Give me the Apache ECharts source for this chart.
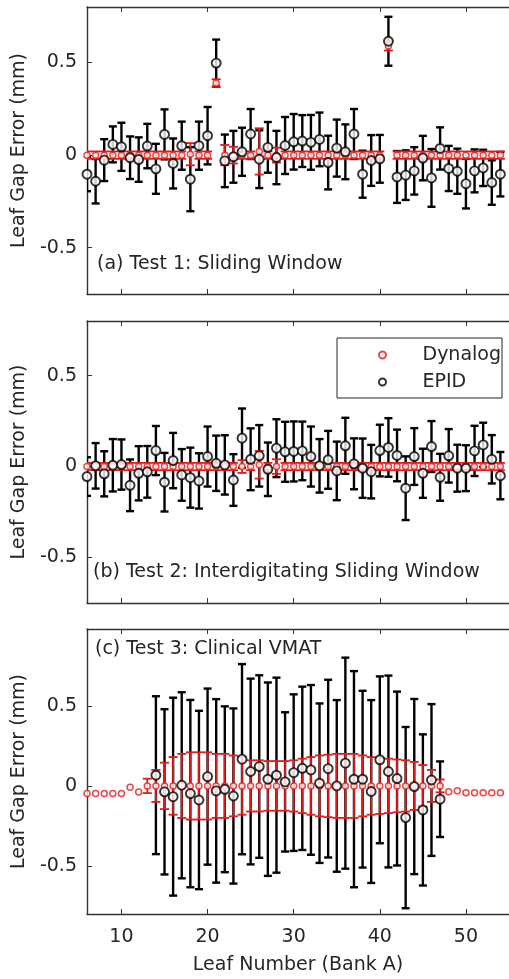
<!DOCTYPE html>
<html>
<head>
<meta charset="utf-8">
<script src="https://cdn.jsdelivr.net/npm/echarts@6/dist/echarts.min.js"></script>
<style>
  html, body { margin: 0; padding: 0; background: #fff; }
  #main { width: 509px; height: 979px; }
</style>
</head>
<body>
<div id="main"></div>
<script>
// leaf numbers (Bank A)
var leaves = [6, 7, 8, 9, 10, 11, 12, 13, 14, 15, 16, 17, 18, 19, 20, 21, 22, 23, 24, 25,
  26, 27, 28, 29, 30, 31, 32, 33, 34, 35, 36, 37, 38, 39, 40, 41, 42, 43, 44, 45,
  46, 47, 48, 49, 50, 51, 52, 53, 54];
var leavesEpidC = [14, 15, 16, 17, 18, 19, 20, 21, 22, 23, 24, 25, 26, 27, 28, 29, 30,
  31, 32, 33, 34, 35, 36, 37, 38, 39, 40, 41, 42, 43, 44, 45, 46, 47];

// (a) Test 1: Sliding Window
var dynA = [0, 0, 0, 0, 0, 0, 0, 0, 0, 0, 0, 0, 0.005, 0, 0, 0.39, 0, 0, 0, 0,
  0.02, 0, 0, 0, 0, 0, 0, 0, 0, 0, 0, 0, 0, 0, 0, 0.59, 0, 0, 0, 0,
  0, 0, 0, 0, 0, 0, 0, 0, 0];
var dynAErr = [0.02, 0.02, 0.02, 0.02, 0.02, 0.02, 0.02, 0.02, 0.02, 0.02, 0.02, 0.02, 0.06, 0.02, 0.02, 0.02, 0.055, 0.045, 0.02, 0.02,
  0.125, 0.02, 0.04, 0.02, 0.02, 0.02, 0.02, 0.02, 0.02, 0.02, 0.02, 0.02, 0.02, 0.02, 0.02, 0.025, 0.02, 0.02, 0.02, 0.02,
  0.02, 0.02, 0.02, 0.02, 0.02, 0.02, 0.02, 0.02, 0.02];
var epidA = [-0.103, -0.141, -0.027, 0.058, 0.045, -0.014, -0.024, 0.049, -0.074, 0.112,
  -0.045, 0.051, -0.13, 0.051, 0.105, 0.497, -0.031, -0.009, 0.018, 0.114,
  -0.022, 0.042, -0.013, 0.052, 0.072, 0.076, 0.069, 0.085, -0.04, 0.038,
  0.018, 0.114, -0.103, -0.029, -0.02, 0.615, -0.118, -0.108, -0.085, -0.016,
  -0.123, 0.036, -0.072, -0.087, -0.154, -0.085, -0.069, -0.148, -0.103];
var epidAErr = [0.092, 0.12, 0.113, 0.097, 0.13, 0.115, 0.12, 0.12, 0.135, 0.135,
  0.135, 0.13, 0.173, 0.13, 0.155, 0.127, 0.142, 0.14, 0.13, 0.135,
  0.156, 0.137, 0.144, 0.154, 0.15, 0.14, 0.148, 0.145, 0.145, 0.154,
  0.148, 0.135, 0.127, 0.137, 0.129, 0.132, 0.14, 0.134, 0.128, 0.12,
  0.156, 0.114, 0.122, 0.122, 0.134, 0.116, 0.098, 0.12, 0.12];

// (b) Test 2: Interdigitating Sliding Window
var dynB = [0, 0, 0, 0, 0, 0, 0, 0, 0, 0, 0, 0, 0, 0, 0, 0, 0, 0, 0, 0,
  0.01, 0, 0, 0, 0, 0, 0, 0, 0, 0, 0, 0, 0, 0, 0, 0, 0, 0, 0, 0,
  0, 0, 0, 0, 0, 0, 0, 0, 0];
var dynBErr = [0.02, 0.02, 0.02, 0.02, 0.02, 0.02, 0.02, 0.02, 0.02, 0.02, 0.02, 0.02, 0.02, 0.02, 0.02, 0.02, 0.02, 0.02, 0.035, 0.02,
  0.076, 0.02, 0.04, 0.02, 0.02, 0.02, 0.02, 0.02, 0.02, 0.02, 0.02, 0.02, 0.02, 0.02, 0.02, 0.02, 0.02, 0.02, 0.02, 0.02,
  0.02, 0.02, 0.02, 0.02, 0.02, 0.02, 0.02, 0.02, 0.02];
var epidB = [-0.055, 0.004, -0.04, 0.007, 0.011, -0.103, -0.037, -0.029, 0.088, -0.086,
  0.033, -0.046, -0.061, -0.079, 0.055, 0.018, 0.009, -0.074, 0.156, 0.04,
  0.059, -0.015, 0.101, 0.081, 0.083, 0.086, 0.055, 0.004, 0.037, -0.024,
  0.114, 0.015, -0.009, -0.028, 0.088, 0.105, 0.061, -0.119, 0.055, -0.037,
  0.11, -0.059, 0.059, -0.009, -0.009, 0.086, 0.119, 0.04, -0.05];
var epidBErr = [0.106, 0.125, 0.124, 0.144, 0.138, 0.142, 0.149, 0.142, 0.135, 0.161,
  0.152, 0.142, 0.165, 0.152, 0.165, 0.152, 0.163, 0.142, 0.163, 0.17,
  0.169, 0.147, 0.159, 0.165, 0.165, 0.161, 0.165, 0.147, 0.159, 0.161,
  0.154, 0.14, 0.163, 0.147, 0.142, 0.161, 0.142, 0.175, 0.156, 0.135,
  0.14, 0.129, 0.147, 0.129, 0.126, 0.138, 0.122, 0.133, 0.13];

// (c) Test 3: Clinical VMAT
var dynC = [-0.047, -0.047, -0.047, -0.047, -0.047, -0.008, -0.038, 0, 0, 0,
  0, 0, 0, 0, 0, 0, 0, 0, 0, 0, 0, 0, 0, 0, 0, 0, 0, 0, 0, 0,
  0, 0, 0, 0, 0, 0, 0, 0, 0, 0, 0, 0, -0.037, -0.03, -0.042,
  -0.042, -0.042, -0.042, -0.042];
var dynCErr = [0, 0, 0, 0, 0, 0, 0, 0.045, 0.1, 0.145,
  0.18, 0.2, 0.21, 0.21, 0.21, 0.2, 0.2, 0.19, 0.18, 0.16,
  0.16, 0.155, 0.155, 0.155, 0.16, 0.17, 0.18, 0.19, 0.195, 0.2,
  0.2, 0.2, 0.19, 0.18, 0.175, 0.17, 0.165, 0.16, 0.15, 0.13,
  0.1, 0.04, 0, 0, 0, 0, 0, 0, 0];
var epidC = [0.067, -0.037, -0.067, 0.004, -0.048, -0.088, 0.058, -0.031, -0.021, -0.063,
  0.167, 0.09, 0.121, 0.042, 0.067, 0.025, 0.083, 0.11, 0.1, 0.017,
  0.108, 0, 0.142, 0.042, 0.042, -0.035, 0.163, 0.09, 0.046, -0.198,
  -0.004, -0.15, 0.037, -0.083];
var epidCErr = [0.493, 0.516, 0.618, 0.581, 0.585, 0.557, 0.55, 0.573, 0.518, 0.547,
  0.594, 0.58, 0.57, 0.604, 0.609, 0.435, 0.489, 0.51, 0.53, 0.498,
  0.555, 0.536, 0.659, 0.675, 0.552, 0.571, 0.521, 0.599, 0.543, 0.566,
  0.547, 0.472, 0.474, 0.236];

var xTicks = [10, 20, 30, 40, 50];
var yTicks = [-0.5, 0, 0.5];

var font = 'DejaVu Sans';
var textColor = '#262626';
var axisColor = '#333';
var red = '#e31a1a';

var panels = [
  { title: '(a) Test 1: Sliding Window', titleLeft: 97, titleTop: 255, top: 7, height: 287, ymin: -0.75, ymax: 0.8,
    dyn: [leaves, dynA, dynAErr], epid: [leaves, epidA, epidAErr] },
  { title: '(b) Test 2: Interdigitating Sliding Window', titleLeft: 93, titleTop: 563, top: 321, height: 282, ymin: -0.75, ymax: 0.8,
    dyn: [leaves, dynB, dynBErr], epid: [leaves, epidB, epidBErr] },
  { title: '(c) Test 3: Clinical VMAT', titleLeft: 95, titleTop: 640, top: 629, height: 285, ymin: -0.8, ymax: 0.98,
    dyn: [leaves, dynC, dynCErr], epid: [leavesEpidC, epidC, epidCErr] }
];

function errorBars(color, lineWidth, cap) {
  return function (params, api) {
    var x = api.value(0), y = api.value(1), e = api.value(2);
    if (!e) return null;
    var hi = api.coord([x, y + e]);
    var lo = api.coord([x, y - e]);
    var style = { stroke: color, lineWidth: lineWidth, fill: null };
    return {
      type: 'group',
      children: [
        { type: 'line', shape: { x1: hi[0], y1: hi[1], x2: lo[0], y2: lo[1] }, style: style },
        { type: 'line', shape: { x1: hi[0] - cap, y1: hi[1], x2: hi[0] + cap, y2: hi[1] }, style: style },
        { type: 'line', shape: { x1: lo[0] - cap, y1: lo[1], x2: lo[0] + cap, y2: lo[1] }, style: style }
      ]
    };
  };
}

function rows(set) {
  return set[0].map(function (x, i) { return [x, set[1][i], set[2][i]]; });
}

var grids = [], xAxes = [], yAxes = [], titles = [], series = [];
panels.forEach(function (p, g) {
  var last = g === panels.length - 1;
  grids.push({ left: 87, top: p.top, width: 429, height: p.height });
  titles.push({
    text: p.title, left: p.titleLeft, top: p.titleTop, padding: 0,
    textStyle: { fontFamily: font, fontSize: 19, fontWeight: 'normal', color: textColor }
  });
  xAxes.push({
    type: 'value', gridIndex: g, position: 'bottom', min: 6, max: 55,
    name: last ? 'Leaf Number (Bank A)' : '', nameLocation: 'middle', nameGap: 42,
    nameTextStyle: { fontFamily: font, fontSize: 19, color: textColor },
    axisLine: { onZero: false, lineStyle: { color: axisColor, width: 1.4 } },
    axisTick: { inside: true, length: 5, customValues: xTicks, lineStyle: { color: axisColor } },
    axisLabel: { show: last, customValues: xTicks, margin: 14, fontFamily: font, fontSize: 19, color: textColor },
    splitLine: { show: false }
  });
  xAxes.push({
    type: 'value', gridIndex: g, position: 'top', min: 6, max: 55,
    axisLine: { onZero: false, lineStyle: { color: axisColor, width: 1.4 } },
    axisTick: { inside: true, length: 5, customValues: xTicks, lineStyle: { color: axisColor } },
    axisLabel: { show: false, customValues: xTicks },
    splitLine: { show: false }
  });
  yAxes.push({
    type: 'value', gridIndex: g, min: p.ymin, max: p.ymax,
    name: 'Leaf Gap Error (mm)', nameLocation: 'middle', nameGap: 53,
    nameTextStyle: { fontFamily: font, fontSize: 19, color: textColor },
    axisLine: { show: true, onZero: false, lineStyle: { color: axisColor, width: 1.4 } },
    axisTick: { show: true, inside: true, length: 5, customValues: yTicks, lineStyle: { color: axisColor } },
    axisLabel: { customValues: yTicks, margin: 10, fontFamily: font, fontSize: 19, color: textColor },
    splitLine: { show: false }
  });
  series.push({
    type: 'custom', name: 'EPID error', xAxisIndex: g * 2, yAxisIndex: g, z: 2, clip: true, silent: true,
    data: rows(p.epid), encode: { x: 0, y: 1 }, renderItem: errorBars('#000', 2.4, 4)
  });
  series.push({
    type: 'custom', name: 'Dynalog error', xAxisIndex: g * 2, yAxisIndex: g, z: 3, clip: true, silent: true,
    data: rows(p.dyn), encode: { x: 0, y: 1 }, renderItem: errorBars(red, 1.8, 4.5)
  });
  series.push({
    type: 'scatter', name: 'Dynalog', xAxisIndex: g * 2, yAxisIndex: g, z: 4, clip: true,
    symbol: 'circle', symbolSize: 6,
    itemStyle: { color: '#fff', borderColor: red, borderWidth: 1.5 },
    data: p.dyn[0].map(function (x, i) { return [x, p.dyn[1][i]]; })
  });
  series.push({
    type: 'scatter', name: 'EPID', xAxisIndex: g * 2, yAxisIndex: g, z: 5, clip: true,
    symbol: 'circle', symbolSize: 9,
    itemStyle: { color: '#fff', borderColor: '#000', borderWidth: 1.9 },
    data: p.epid[0].map(function (x, i) { return [x, p.epid[1][i]]; })
  });
});

var chart = echarts.init(document.getElementById('main'));
chart.setOption({
  animation: false,
  backgroundColor: '#fff',
  title: titles,
  legend: {
    data: ['Dynalog', 'EPID'],
    orient: 'vertical', left: 337, top: 338,
    padding: [7, 1, 6, 41],
    itemWidth: 70, itemHeight: 7, itemGap: 7,
    borderColor: '#262626', borderWidth: 1, backgroundColor: '#fff',
    selectedMode: false,
    textStyle: { fontFamily: font, fontSize: 19, lineHeight: 20, color: textColor }
  },
  grid: grids,
  xAxis: xAxes,
  yAxis: yAxes,
  series: series
});
</script>
</body>
</html>
